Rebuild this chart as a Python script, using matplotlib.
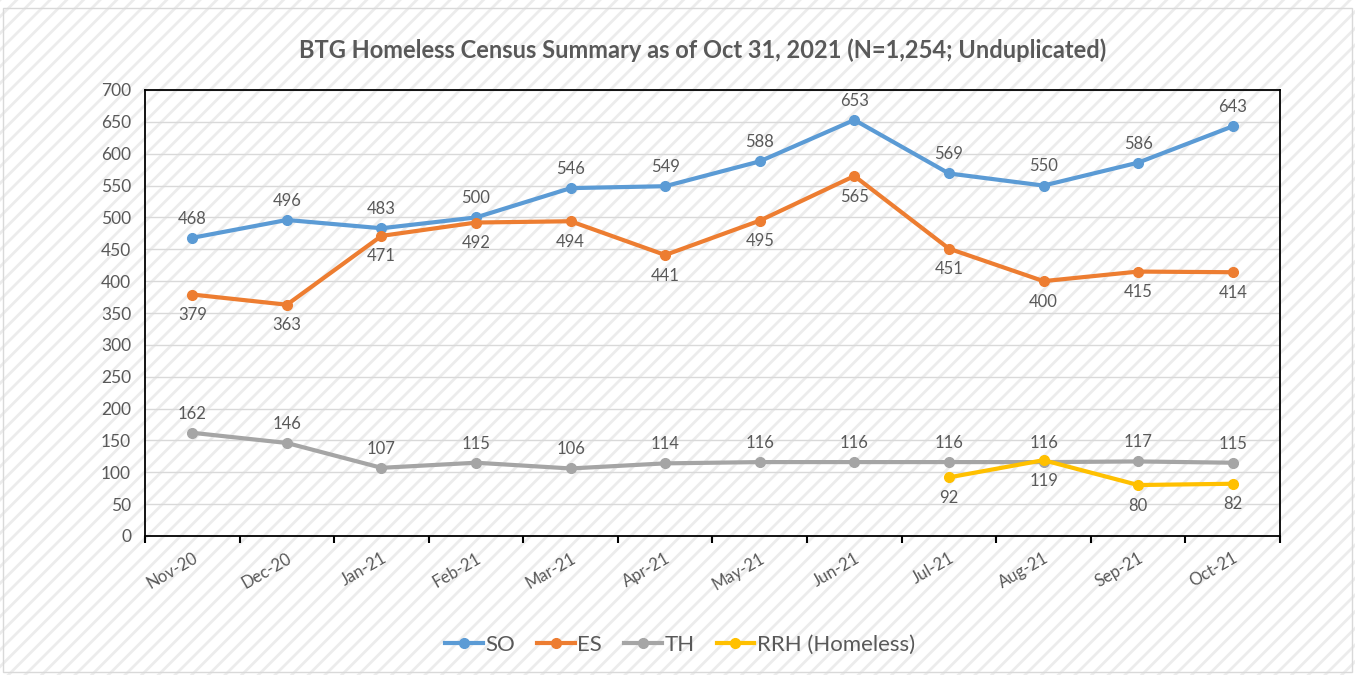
import numpy as np
import matplotlib.pyplot as plt
from matplotlib.patches import Rectangle

# данные
months = ['Nov-20', 'Dec-20', 'Jan-21', 'Feb-21', 'Mar-21', 'Apr-21',
          'May-21', 'Jun-21', 'Jul-21', 'Aug-21', 'Sep-21', 'Oct-21']
so = [468, 496, 483, 500, 546, 549, 588, 653, 569, 550, 586, 643]
es = [379, 363, 471, 492, 494, 441, 495, 565, 451, 400, 415, 414]
th = [162, 146, 107, 115, 106, 114, 116, 116, 116, 116, 117, 115]
rrh = [np.nan] * 8 + [92, 119, 80, 82]

plt.rcParams['font.family'] = ['Lato', 'DejaVu Sans']
plt.rcParams['hatch.linewidth'] = 2.0
plt.rcParams['hatch.color'] = '#ececec'
txt = '#595959'

fig = plt.figure(figsize=(13.55, 6.75), dpi=100)
fig.patch.set_facecolor('white')
fig.patch.set_hatch('//')
fig.patch.set_edgecolor('#ececec')
fig.add_artist(Rectangle((3 / 1355, 3 / 675), 1349 / 1355, 664 / 675,
                         transform=fig.transFigure, fill=False,
                         edgecolor='#d9d9d9', linewidth=1))

ax = fig.add_axes([145 / 1355, 1 - 536 / 675, 1135 / 1355, 446 / 675])
ax.set_facecolor('none')

x = np.arange(len(months))
series = [('SO', so, '#5B9BD5', 'above'),
          ('ES', es, '#ED7D31', 'below'),
          ('TH', th, '#A5A5A5', 'above'),
          ('RRH (Homeless)', rrh, '#FFC000', 'below')]
for name, vals, col, pos in series:
    ax.plot(x, vals, color=col, linewidth=3, marker='o', markersize=7,
            label=name, zorder=3)
    for xi, v in zip(x, vals):
        if np.isnan(v):
            continue
        if pos == 'above':
            ax.annotate(str(int(v)), (xi, v), xytext=(0, 8), textcoords='offset points',
                        ha='center', va='bottom', fontsize=12, color=txt)
        else:
            ax.annotate(str(int(v)), (xi, v), xytext=(0, -9), textcoords='offset points',
                        ha='center', va='top', fontsize=12, color=txt)

ax.set_xlim(-0.5, len(months) - 0.5)
ax.set_ylim(0, 700)
ax.set_yticks(np.arange(0, 701, 50))
ax.yaxis.grid(True, color='#d9d9d9', linewidth=1)
ax.set_axisbelow(True)
ax.tick_params(axis='y', length=0, labelsize=12.5, labelcolor=txt, pad=10)

ax.set_xticks(x)
ax.set_xticklabels(months, rotation=30, ha='right', rotation_mode='anchor')
ax.tick_params(axis='x', length=0, labelsize=12, labelcolor=txt, pad=10)
ax.set_xticks(np.arange(-0.5, len(months) + 0.5, 1), minor=True)
ax.tick_params(axis='x', which='minor', length=5, width=1.5, color='black')

for s in ax.spines.values():
    s.set_color('black')
    s.set_linewidth(1.3)

fig.text(703 / 1355, 1 - 50 / 675, 'BTG Homeless Census Summary as of Oct 31, 2021 (N=1,254; Unduplicated)',
         ha='center', va='center', fontsize=17, fontweight='bold', color=txt)

leg = fig.legend(loc='center', bbox_to_anchor=(680 / 1355, 1 - 645 / 675), ncol=4,
                 frameon=False, fontsize=16, handlelength=1.7, columnspacing=1.0,
                 handletextpad=0.1, labelcolor=txt)

fig.savefig('out.png', dpi=100)
